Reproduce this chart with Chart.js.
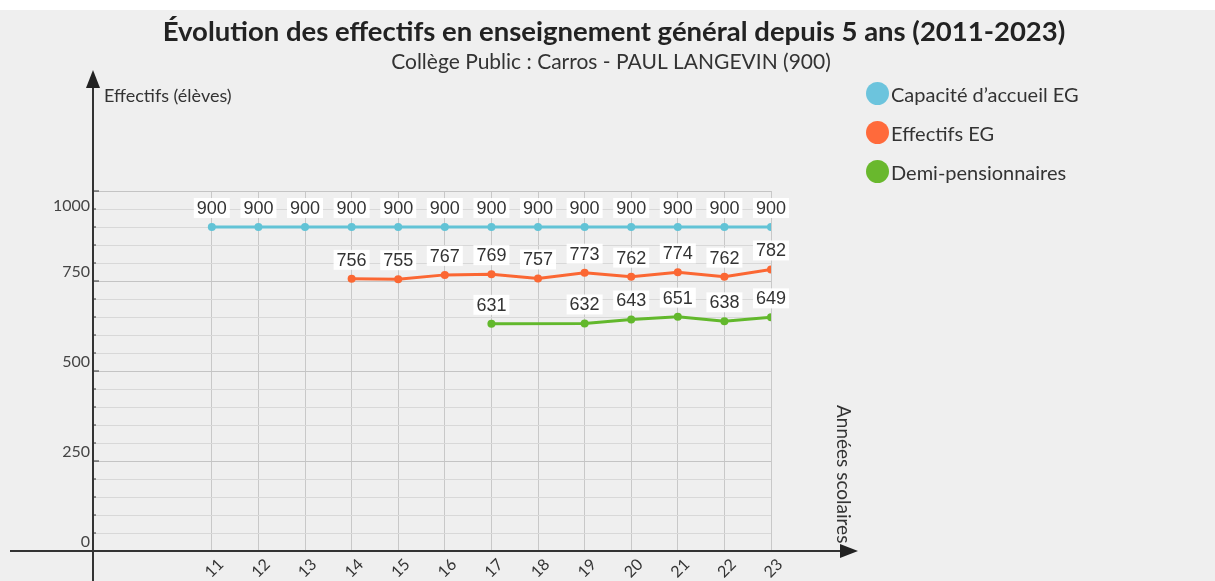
<!DOCTYPE html>
<html lang="fr">
<head>
<meta charset="utf-8">
<title>Évolution des effectifs</title>
<script src="https://cdn.jsdelivr.net/npm/chart.js@4.4.1/dist/chart.umd.min.js"></script>
<style>
    html, body { margin: 0; padding: 0; }
    body { width: 1215px; height: 581px; background: #efefef; position: relative; overflow: hidden; font-family: Lato, sans-serif; }
    .bande { position: absolute; left: 0; top: 0; width: 1215px; height: 10px; background: #fff; }
    #zone { position: absolute; left: 0; top: 0; width: 1215px; height: 581px; }
    #legende { position: absolute; left: 866px; top: 74px; list-style: none; margin: 0; padding: 0; }
    #legende li { display: flex; align-items: center; height: 39px; font-size: 20px; color: #333; }
    #legende span.pastille { width: 23px; height: 23px; border-radius: 50%; margin-right: 2px; display: inline-block; }
</style>
</head>
<body>
<div class="bande"></div>
<div id="zone"><canvas id="graphique" width="1215" height="581"></canvas></div>
<ul id="legende"></ul>
<script>
// Données
const annees = [11, 12, 13, 14, 15, 16, 17, 18, 19, 20, 21, 22, 23];
const capaciteEG = [900, 900, 900, 900, 900, 900, 900, 900, 900, 900, 900, 900, 900];
const effectifsEG = [null, null, null, 756, 755, 767, 769, 757, 773, 762, 774, 762, 782];
const demiPension = [null, null, null, null, null, null, 631, null, 632, 643, 651, 638, 649];
const nomsSeries = ['Capacité d\u2019accueil EG', 'Effectifs EG', 'Demi-pensionnaires'];
const couleurs = ['#62c3d6', '#fb6733', '#62b82c'];
const couleursLegende = ['#6cc4dd', '#ff6a3b', '#69b82d'];
const ticksY = [0, 250, 500, 750];
const tickHaut = 1000;
const titre = 'Évolution des effectifs en enseignement général depuis 5 ans (2011-2023)';
const sousTitre = 'Collège Public : Carros - PAUL LANGEVIN (900)';

const versPoints = (valeurs) => annees.map((a, i) => ({ x: a, y: valeurs[i] })).filter(p => p.y !== null);

// Étiquettes de valeurs sur fond blanc
const etiquettesPlugin = {
    id: 'etiquettes',
    afterDatasetsDraw(chart) {
        const ctx = chart.ctx;
        ctx.save();
        ctx.font = '18px "Liberation Sans", Arial, sans-serif';
        ctx.textAlign = 'center';
        ctx.textBaseline = 'middle';
        chart.data.datasets.forEach((ds, i) => {
            const meta = chart.getDatasetMeta(i);
            meta.data.forEach((pt, j) => {
                const txt = String(ds.data[j].y);
                const w = ctx.measureText(txt).width;
                const y = pt.y - 19;
                ctx.fillStyle = 'rgba(255,255,255,0.95)';
                ctx.fillRect(pt.x - w / 2 - 3, y - 10, w + 6, 20);
                ctx.fillStyle = '#333';
                ctx.fillText(txt, pt.x, y + 1);
            });
        });
        ctx.restore();
    }
};

// Titres, axes avec flèches et titres d'axes
const axesPlugin = {
    id: 'axesFleches',
    afterDraw(chart) {
        const ctx = chart.ctx;
        const x0 = chart.scales.y.left + chart.scales.y.width;
        const y0 = chart.scales.y.getPixelForValue(0);
        ctx.save();
        ctx.textAlign = 'center';
        ctx.textBaseline = 'middle';
        ctx.fillStyle = '#222';
        ctx.font = 'bold 27.5px Lato, sans-serif';
        ctx.fillText(titre, 614, 32);
        ctx.fillStyle = '#333';
        ctx.font = '21px Lato, sans-serif';
        ctx.fillText(sousTitre, 611, 62);

        // libellé 1000 sous la ligne du haut
        ctx.fillStyle = '#444';
        ctx.font = '16px Lato, sans-serif';
        ctx.textAlign = 'right';
        ctx.fillText(String(tickHaut), x0 - 3, chart.scales.y.getPixelForValue(tickHaut) + 15);

        ctx.strokeStyle = '#333';
        ctx.fillStyle = '#222';
        ctx.lineWidth = 2;
        ctx.beginPath();
        ctx.moveTo(10, y0);
        ctx.lineTo(845, y0);
        ctx.moveTo(x0, 581);
        ctx.lineTo(x0, 82);
        ctx.stroke();
        ctx.beginPath();
        ctx.moveTo(858, y0);
        ctx.lineTo(840, y0 - 7);
        ctx.lineTo(840, y0 + 7);
        ctx.closePath();
        ctx.fill();
        ctx.beginPath();
        ctx.moveTo(x0, 70);
        ctx.lineTo(x0 - 7, 88);
        ctx.lineTo(x0 + 7, 88);
        ctx.closePath();
        ctx.fill();
        // petites graduations sur l'axe vertical
        ctx.lineWidth = 1;
        for (let v = 50; v <= 1000; v += 50) {
            const y = chart.scales.y.getPixelForValue(v);
            ctx.beginPath();
            ctx.moveTo(x0, y);
            ctx.lineTo(x0 + (v % 250 === 0 ? 6 : 3), y);
            ctx.stroke();
        }
        ctx.font = '18px Lato, sans-serif';
        ctx.fillStyle = '#333';
        ctx.textAlign = 'left';
        ctx.fillText('Effectifs (élèves)', x0 + 11, 96);
        ctx.translate(843, 405);
        ctx.rotate(Math.PI / 2);
        ctx.font = '19px Lato, sans-serif';
        ctx.fillText('Années scolaires', 0, 0);
        ctx.restore();
    }
};

const ctx = document.getElementById('graphique').getContext('2d');
const graphique = new Chart(ctx, {
    type: 'line',
    data: {
        datasets: [
            { label: nomsSeries[0], data: versPoints(capaciteEG), borderColor: couleurs[0], backgroundColor: couleurs[0] },
            { label: nomsSeries[1], data: versPoints(effectifsEG), borderColor: couleurs[1], backgroundColor: couleurs[1] },
            { label: nomsSeries[2], data: versPoints(demiPension), borderColor: couleurs[2], backgroundColor: couleurs[2] }
        ]
    },
    options: {
        responsive: false,
        animation: false,
        layout: { padding: { top: 191, left: 30, right: 444, bottom: 0 } },
        elements: {
            line: { borderWidth: 3, tension: 0 },
            point: { radius: 4, borderWidth: 0, hoverRadius: 4 }
        },
        plugins: {
            legend: { display: false },
            tooltip: { enabled: false },
            title: { display: false }
        },
        scales: {
            x: {
                type: 'linear',
                min: 8.45,
                max: 23,
                afterBuildTicks: (s) => { s.ticks = annees.map(a => ({ value: a })); },
                afterFit: (s) => { s.height = 30; },
                border: { display: false },
                grid: { color: '#c8c8c8', drawTicks: false },
                ticks: {
                    autoSkip: false,
                    minRotation: 45,
                    maxRotation: 45,
                    padding: 4,
                    labelOffset: 9,
                    color: '#333',
                    font: { family: 'Lato', size: 16 }
                }
            },
            y: {
                min: 0,
                max: 1000,
                afterBuildTicks: (s) => {
                    const t = [];
                    for (let v = 0; v <= 1000; v += 50) t.push({ value: v });
                    s.ticks = t;
                },
                afterFit: (s) => { s.width = 63; },
                border: { display: false },
                grid: {
                    drawTicks: false,
                    color: (c) => (c.tick && c.tick.value % 250 === 0 ? '#c4c4c4' : '#d8d8d8')
                },
                ticks: {
                    autoSkip: false,
                    padding: 3,
                    labelOffset: -9,
                    color: '#444',
                    font: { family: 'Lato', size: 16 },
                    callback: (v) => (ticksY.includes(v) ? String(v) : '')
                }
            }
        }
    },
    plugins: [etiquettesPlugin, axesPlugin]
});

// Légende HTML
const legende = document.getElementById('legende');
nomsSeries.forEach((nom, i) => {
    const li = document.createElement('li');
    li.innerHTML = '<span class="pastille" style="background:' + couleursLegende[i] + '"></span>' + nom;
    legende.appendChild(li);
});
</script>
</body>
</html>
